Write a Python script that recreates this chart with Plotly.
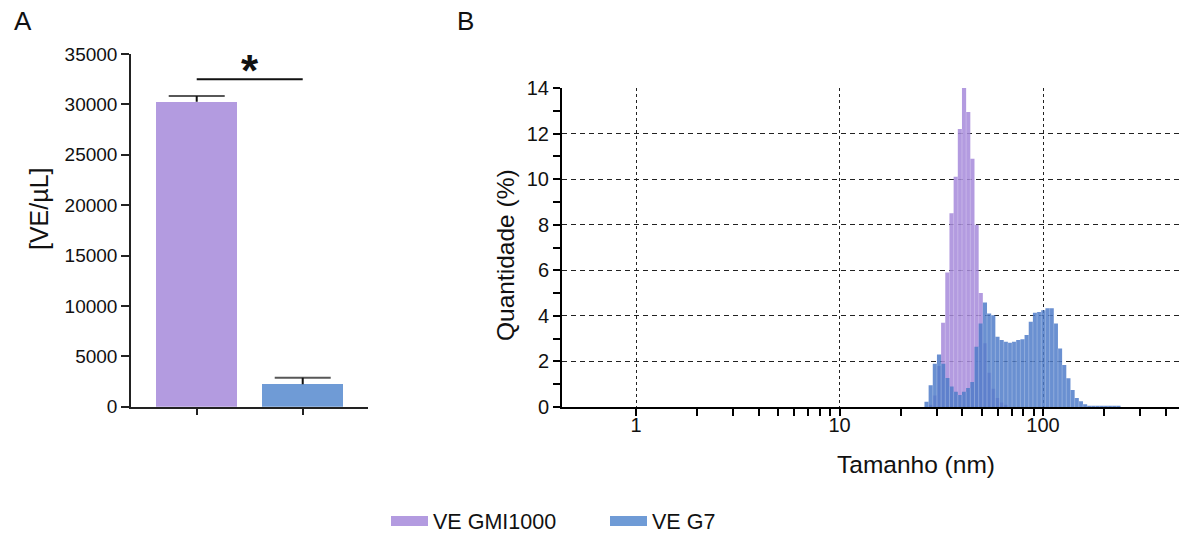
import plotly.graph_objects as go

# ---------------- data ----------------
categories = ["VE GMI1000", "VE G7"]
concentration = [30270, 2220]          # [VE/µL]
concentration_err = [565, 655]
sig_level = 32500                      # height of significance bracket
sig_label = "*"

# size-distribution histogram (log-spaced bins, nm)
bin_edges_nm = [26.14, 27.40, 28.72, 30.11, 31.56, 33.09, 34.69, 36.36, 38.12, 39.96,
                41.89, 43.92, 46.04, 48.27, 50.60, 53.05, 55.61, 58.30, 61.12, 64.07,
                67.17, 70.42, 73.82, 77.39, 81.13, 85.05, 89.17, 93.48, 97.99, 102.73,
                107.70, 112.91, 118.37, 124.09, 130.09, 136.38, 142.97, 149.89, 157.13, 164.73,
                172.70, 181.05, 189.80, 198.98, 208.6, 218.6, 229.2, 240.3]
gmi1000_pct = [0, 0.1, 0.5, 1.8, 3.7, 5.9, 8.5, 10.1, 12.2, 14.0,
               12.95, 10.9, 8.0, 5.0, 2.8, 1.5, 0.8, 0.4, 0.2, 0.1,
               0, 0, 0, 0, 0, 0, 0, 0, 0, 0,
               0, 0, 0, 0, 0, 0, 0, 0, 0, 0,
               0, 0, 0, 0, 0, 0, 0]
g7_pct = [0.23, 0.96, 1.9, 2.3, 1.9, 1.27, 0.9, 0.67, 0.53, 0.67,
          0.83, 1.1, 2.64, 3.67, 4.59, 4.1, 4.03, 3.08, 2.94, 2.86,
          2.82, 2.86, 2.94, 2.97, 3.16, 3.74, 4.14, 4.17, 4.25, 4.33,
          4.33, 3.67, 2.57, 1.84, 1.26, 0.75, 0.4, 0.25, 0.12, 0.06,
          0.06, 0.06, 0.06, 0.06, 0.06, 0.06, 0.06]

x_major = [1, 10, 100]
x_minor = [2, 3, 4, 5, 6, 7, 8, 9, 20, 30, 40, 50, 60, 70, 80, 90, 200, 300, 400]
y_major = [0, 2, 4, 6, 8, 10, 12, 14]
y_minor = [1, 3, 5, 7, 9, 11, 13]

# ---------------- style ----------------
W, H = 1179, 537
FONT = "Arial, Liberation Sans, sans-serif"
purple_bar = "#B39BE0"
blue_bar = "#6F9BD6"
purple_hist = "rgba(166,138,219,0.85)"
blue_hist = "rgba(78,123,200,0.84)"
ink = "#111111"

fig = go.Figure()

# ---- panel A: bars ----
bar_colors = [purple_bar, blue_bar]
for cat, val, err, col in zip(categories, concentration, concentration_err, bar_colors):
    fig.add_trace(go.Bar(
        x=[cat], y=[val], name=cat, showlegend=False,
        marker=dict(color=col, line=dict(width=0)), width=0.767,
        hoverinfo="skip", xaxis="x", yaxis="y"))
    # one-sided (upper) error bar: stem + cap
    fig.add_trace(go.Scatter(
        x=[cat, cat], y=[val, val + err], mode="lines+markers",
        line=dict(color=ink, width=2),
        marker=dict(symbol="line-ew", size=[0, 40], color=ink,
                    line=dict(color=ink, width=2)),
        showlegend=False, hoverinfo="skip", xaxis="x", yaxis="y"))

fig.add_trace(go.Scatter(
    x=categories, y=[sig_level, sig_level], mode="lines",
    line=dict(color=ink, width=2), showlegend=False, hoverinfo="skip",
    xaxis="x", yaxis="y"))


# ---- panel B: histograms ----
def step_trace(heights, fillcolor):
    return go.Scatter(
        x=bin_edges_nm, y=list(heights) + [0], mode="lines", line_shape="hv",
        line=dict(width=0, color=fillcolor), fill="tozeroy", fillcolor=fillcolor,
        showlegend=False, hoverinfo="skip", xaxis="x2", yaxis="y2")


def separators(heights):
    sx, sy = [], []
    for i in range(1, len(heights)):
        top = min(heights[i - 1], heights[i])
        if top > 0:
            sx += [bin_edges_nm[i], bin_edges_nm[i], None]
            sy += [0, top, None]
    return go.Scatter(x=sx, y=sy, mode="lines",
                      line=dict(width=1, color="rgba(255,255,255,0.25)"),
                      showlegend=False, hoverinfo="skip", xaxis="x2", yaxis="y2")


fig.add_trace(step_trace(gmi1000_pct, purple_hist))
fig.add_trace(separators(gmi1000_pct))
fig.add_trace(step_trace(g7_pct, blue_hist))
fig.add_trace(separators(g7_pct))

# legend entries (legend swatches only)
for cat, col in zip(categories, bar_colors):
    fig.add_trace(go.Scatter(x=[None], y=[None], mode="lines", name=cat,
                             line=dict(color=col, width=16),
                             hoverinfo="skip", xaxis="x2", yaxis="y2"))

# ---------------- layout ----------------
dom_ax = [131 / W, 367.7 / W]
dom_ay = [1 - 406.7 / H, 1 - 54 / H]
dom_bx = [562 / W, 1.0]
dom_by = [1 - 407 / H, 1 - 88 / H]
xr_b = [-0.3636, 2.668]

tick_common = dict(tickcolor="black", tickwidth=2, ticklen=7)

fig.update_layout(
    width=W, height=H, margin=dict(l=0, r=0, t=0, b=0, autoexpand=False),
    paper_bgcolor="white", plot_bgcolor="rgba(0,0,0,0)",
    font=dict(family=FONT, color=ink),
    barmode="overlay", bargap=0,
    xaxis=dict(domain=dom_ax, type="category", range=[-0.62, 1.613], anchor="y",
               showline=True, linecolor="#222", linewidth=1.5,
               ticks="outside", ticklen=7, tickwidth=1.5, tickcolor="#222",
               showticklabels=False, showgrid=False, zeroline=False),
    yaxis=dict(domain=dom_ay, range=[0, 35000], tick0=0, dtick=5000, tickformat="d",
               anchor="x", showline=True, linecolor="#222", linewidth=1.5,
               ticks="outside", ticklen=8, tickwidth=1.5, tickcolor="#222",
               tickfont=dict(size=19, color=ink), showgrid=False, zeroline=False),
    xaxis2=dict(domain=dom_bx, type="log", range=xr_b, anchor="y2",
                tickmode="array", tickvals=x_major, ticktext=[str(v) for v in x_major],
                ticks="outside", **tick_common,
                minor=dict(tickmode="array", tickvals=x_minor, ticks="outside",
                           ticklen=7, tickwidth=2, tickcolor="black", showgrid=False),
                showline=True, linecolor="black", linewidth=2,
                showgrid=True, gridcolor="#222", gridwidth=1, griddash="3px,3px",
                tickfont=dict(size=20, color=ink), ticklabelstandoff=-8, zeroline=False),
    xaxis3=dict(type="log", range=xr_b, overlaying="x2", anchor="y2",
                tickmode="array", tickvals=x_major, ticks="inside", **tick_common,
                minor=dict(tickmode="array", tickvals=x_minor, ticks="inside",
                           ticklen=7, tickwidth=2, tickcolor="black", showgrid=False),
                showticklabels=False, showgrid=False, showline=False, zeroline=False),
    yaxis2=dict(domain=dom_by, range=[0, 14], anchor="x2",
                tickmode="array", tickvals=y_major, ticks="outside", **tick_common,
                minor=dict(tickmode="array", tickvals=y_minor, ticks="outside",
                           ticklen=7, tickwidth=2, tickcolor="black", showgrid=False),
                showline=True, linecolor="black", linewidth=2,
                showgrid=True, gridcolor="#222", gridwidth=1, griddash="5px,4px",
                tickfont=dict(size=20, color=ink), zeroline=False),
    yaxis3=dict(range=[0, 14], overlaying="y2", anchor="x2",
                tickmode="array", tickvals=y_major, ticks="inside", **tick_common,
                minor=dict(tickmode="array", tickvals=y_minor, ticks="inside",
                           ticklen=7, tickwidth=2, tickcolor="black", showgrid=False),
                showticklabels=False, showgrid=False, showline=False, zeroline=False),
    yaxis4=dict(range=[0, 14], overlaying="y2", anchor="x2",
                tickmode="array", tickvals=[2], ticks="",
                showticklabels=False, showgrid=True, gridcolor="#111", gridwidth=2,
                griddash="3px,4px", showline=False, zeroline=False),
    legend=dict(orientation="h", x=386 / W, xanchor="left", y=1 - 521 / H, yanchor="middle",
                font=dict(size=21.5, color=ink), itemwidth=37,
                entrywidth=167, entrywidthmode="pixels",
                bgcolor="rgba(0,0,0,0)"),
    showlegend=True,
)

ann = [
    dict(text="A", x=12 / W, y=1 - 21 / H, xanchor="left", yanchor="middle", font=dict(size=26)),
    dict(text="B", x=455 / W, y=1 - 21 / H, xanchor="left", yanchor="middle", font=dict(size=26)),
    dict(text="[VE/µL]", x=39 / W, y=1 - 209 / H, textangle=-90, xanchor="center",
         yanchor="middle", font=dict(size=25)),
    dict(text="Quantidade (%)", x=505 / W, y=1 - 255 / H, textangle=-90, xanchor="center",
         yanchor="middle", font=dict(size=24.5)),
    dict(text="Tamanho (nm)", x=915.5 / W, y=1 - 464 / H, xanchor="center", yanchor="middle",
         font=dict(size=24.5)),
]
for a in ann:
    a.update(xref="paper", yref="paper", showarrow=False)
    a["font"].update(family=FONT, color=ink)
fig.update_layout(annotations=ann)
fig.add_annotation(text="<b>" + sig_label + "</b>", x=0.5, y=33400, xref="x", yref="y",
                   showarrow=False, xanchor="center", yanchor="middle",
                   font=dict(size=44, family=FONT, color=ink))

fig.write_html("out.html", config={"displayModeBar": False},
               post_script="document.body.style.margin='0';document.body.style.overflow='hidden';")
